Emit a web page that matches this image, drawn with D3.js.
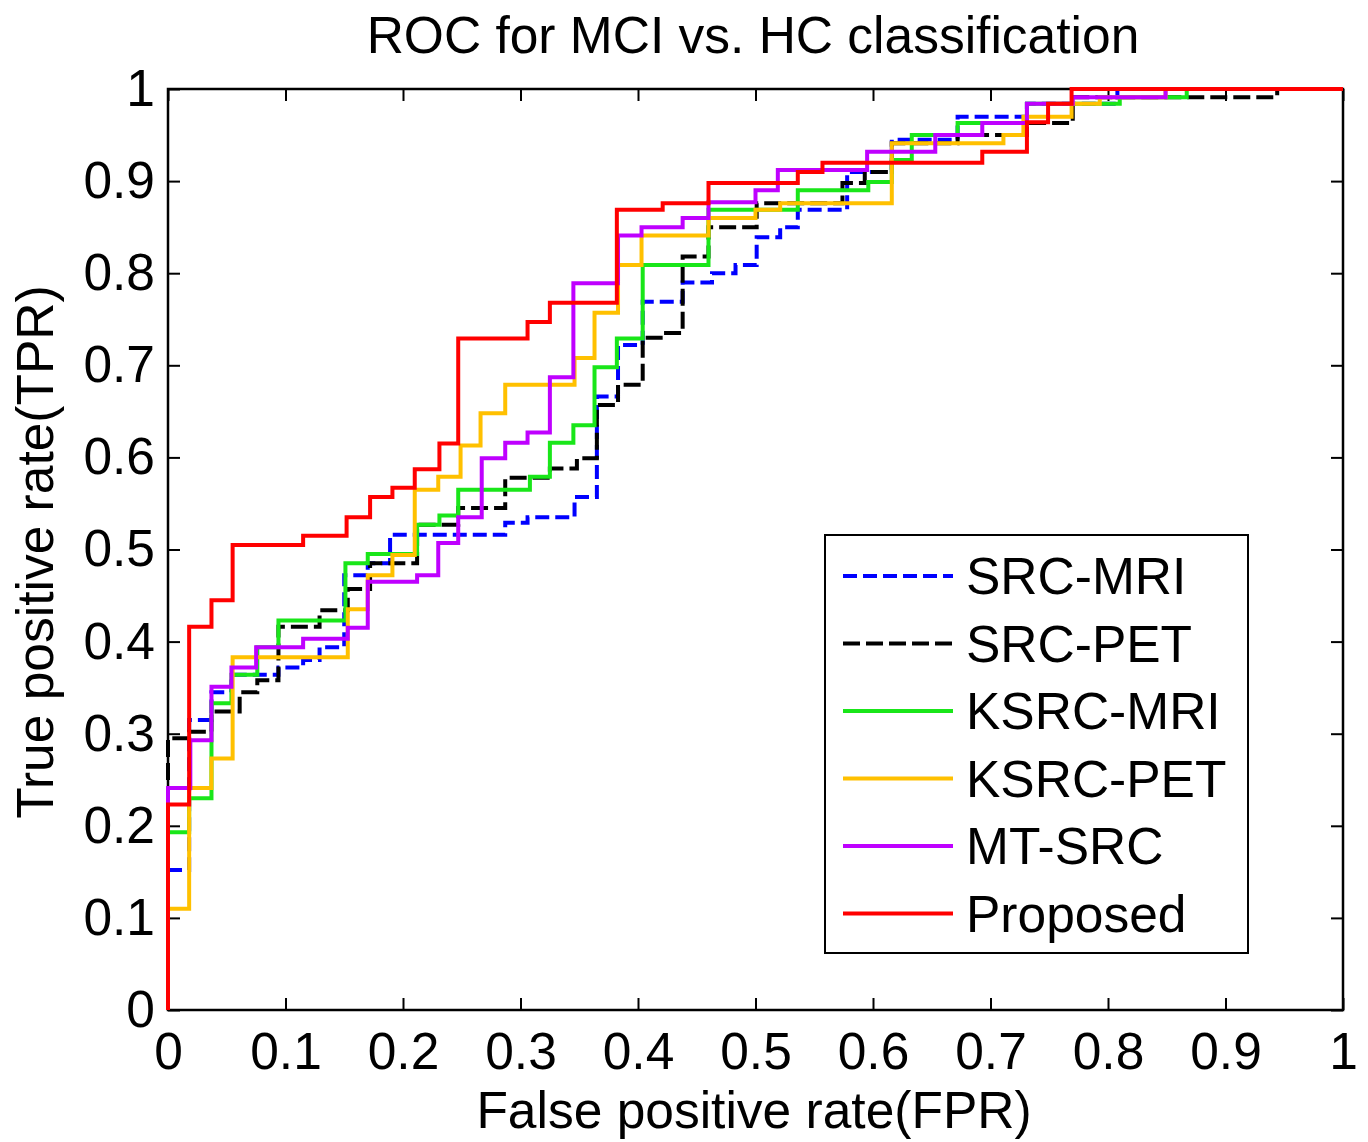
<!DOCTYPE html>
<html>
<head>
<meta charset="utf-8">
<script src="https://cdn.jsdelivr.net/npm/d3@7/dist/d3.min.js"></script>
<style>
  body { margin: 0; background: #fff; }
  text { font-family: "Liberation Sans", Arial, sans-serif; fill: #000; }
</style>
</head>
<body>
<script>
// ROC points (step after): false positive rate / true positive rate
const fprSrcMri = [0, 0, 0.018, 0.037, 0.054, 0.094, 0.115, 0.129, 0.150, 0.170, 0.189, 0.287, 0.306, 0.346, 0.365, 0.383, 0.404, 0.438, 0.463, 0.483, 0.501, 0.521, 0.536, 0.578, 0.616, 0.672, 0.731, 0.808, 1];
const tprSrcMri = [0, 0.152, 0.315, 0.345, 0.364, 0.372, 0.380, 0.394, 0.472, 0.485, 0.516, 0.529, 0.535, 0.557, 0.666, 0.722, 0.769, 0.790, 0.800, 0.809, 0.839, 0.850, 0.869, 0.910, 0.945, 0.970, 0.984, 1, 1];

const fprSrcPet = [0, 0, 0.018, 0.037, 0.061, 0.076, 0.094, 0.129, 0.153, 0.172, 0.212, 0.247, 0.287, 0.325, 0.348, 0.365, 0.383, 0.404, 0.421, 0.438, 0.460, 0.501, 0.574, 0.593, 0.616, 0.672, 0.731, 0.770, 0.944, 1];
const tprSrcPet = [0, 0.295, 0.302, 0.324, 0.345, 0.358, 0.416, 0.434, 0.457, 0.485, 0.527, 0.545, 0.578, 0.588, 0.599, 0.657, 0.679, 0.730, 0.735, 0.818, 0.850, 0.876, 0.898, 0.910, 0.941, 0.950, 0.963, 0.991, 1, 1];

const fprKsrcMri = [0, 0, 0.018, 0.037, 0.054, 0.076, 0.094, 0.151, 0.170, 0.212, 0.231, 0.247, 0.308, 0.325, 0.345, 0.363, 0.382, 0.404, 0.460, 0.536, 0.596, 0.616, 0.633, 0.672, 0.731, 0.810, 0.867, 1];
const tprKsrcMri = [0, 0.193, 0.230, 0.333, 0.364, 0.394, 0.423, 0.485, 0.495, 0.527, 0.537, 0.565, 0.579, 0.616, 0.635, 0.698, 0.729, 0.809, 0.869, 0.890, 0.899, 0.923, 0.950, 0.963, 0.984, 0.991, 1, 1];

const fprKsrcPet = [0, 0, 0.018, 0.037, 0.055, 0.153, 0.170, 0.191, 0.210, 0.230, 0.249, 0.266, 0.287, 0.346, 0.363, 0.383, 0.403, 0.460, 0.500, 0.521, 0.616, 0.711, 0.728, 0.769, 0.793, 0.849, 1];
const tprKsrcPet = [0, 0.110, 0.241, 0.273, 0.383, 0.435, 0.472, 0.494, 0.565, 0.579, 0.613, 0.648, 0.679, 0.708, 0.757, 0.809, 0.841, 0.860, 0.869, 0.876, 0.941, 0.950, 0.970, 0.984, 0.991, 1, 1];

const fprMtSrc = [0, 0, 0.019, 0.037, 0.054, 0.075, 0.115, 0.153, 0.170, 0.212, 0.230, 0.247, 0.267, 0.287, 0.306, 0.325, 0.345, 0.383, 0.403, 0.438, 0.460, 0.500, 0.519, 0.595, 0.653, 0.693, 0.731, 0.770, 0.849, 1];
const tprMtSrc = [0, 0.241, 0.293, 0.351, 0.372, 0.394, 0.403, 0.415, 0.465, 0.472, 0.507, 0.535, 0.599, 0.616, 0.627, 0.687, 0.789, 0.841, 0.850, 0.860, 0.877, 0.890, 0.912, 0.932, 0.950, 0.963, 0.984, 0.991, 1, 1];

const fprProposed = [0, 0, 0.018, 0.037, 0.055, 0.115, 0.152, 0.172, 0.191, 0.210, 0.231, 0.247, 0.306, 0.325, 0.382, 0.421, 0.460, 0.536, 0.557, 0.693, 0.731, 0.749, 0.769, 1];
const tprProposed = [0, 0.223, 0.416, 0.445, 0.505, 0.515, 0.535, 0.557, 0.567, 0.587, 0.615, 0.729, 0.747, 0.768, 0.869, 0.876, 0.898, 0.910, 0.920, 0.932, 0.964, 0.984, 1, 1];

const seriesNames = ["SRC-MRI", "SRC-PET", "KSRC-MRI", "KSRC-PET", "MT-SRC", "Proposed"];
const tickValues = [0, 0.1, 0.2, 0.3, 0.4, 0.5, 0.6, 0.7, 0.8, 0.9, 1];
const tickLabels = ["0", "0.1", "0.2", "0.3", "0.4", "0.5", "0.6", "0.7", "0.8", "0.9", "1"];

// styles per series
const colors = ["#0000ff", "#000000", "#19e619", "#ffc000", "#bf00ff", "#ff0000"];
const dashes = ["14,6", "17,6", null, null, null, null];

const series = [
  [fprSrcMri, tprSrcMri],
  [fprSrcPet, tprSrcPet],
  [fprKsrcMri, tprKsrcMri],
  [fprKsrcPet, tprKsrcPet],
  [fprMtSrc, tprMtSrc],
  [fprProposed, tprProposed]
].map((s, i) => ({
  name: seriesNames[i],
  points: s[0].map((v, j) => [v, s[1][j]])
}));

const w = 1368;
const h = 1142;
const plotLeft = 168, plotRight = 1343, plotTop = 89, plotBottom = 1010;
const fontSize = "51.5px";

const xScale = d3.scaleLinear().domain([0, 1]).range([plotLeft, plotRight]);
const yScale = d3.scaleLinear().domain([0, 1]).range([plotBottom, plotTop]);

const svg = d3.select("body").append("svg")
  .attr("width", w)
  .attr("height", h);

svg.append("rect").attr("width", w).attr("height", h).attr("fill", "#fff");

const fmt = (d) => tickLabels[tickValues.indexOf(d)];
const tick = 12;

// axes, ticks pointing inwards on all four sides
svg.append("g")
  .attr("transform", "translate(0," + plotBottom + ")")
  .call(d3.axisBottom(xScale).tickValues(tickValues).tickFormat(fmt).tickSizeInner(-tick).tickSizeOuter(0).tickPadding(22))
  .call(g => g.select(".domain").remove());

svg.append("g")
  .attr("transform", "translate(" + plotLeft + ",0)")
  .call(d3.axisLeft(yScale).tickValues(tickValues).tickFormat(fmt).tickSizeInner(-tick).tickSizeOuter(0).tickPadding(13))
  .call(g => g.select(".domain").remove());

svg.append("g")
  .attr("transform", "translate(0," + plotTop + ")")
  .call(d3.axisTop(xScale).tickValues(tickValues).tickFormat("").tickSizeInner(-tick).tickSizeOuter(0))
  .call(g => g.select(".domain").remove());

svg.append("g")
  .attr("transform", "translate(" + plotRight + ",0)")
  .call(d3.axisRight(yScale).tickValues(tickValues).tickFormat("").tickSizeInner(-tick).tickSizeOuter(0))
  .call(g => g.select(".domain").remove());

svg.selectAll(".tick line").attr("stroke", "#000").attr("stroke-width", 2);
svg.selectAll(".tick text")
  .style("font-family", "'Liberation Sans', Arial, sans-serif")
  .style("font-size", fontSize)
  .attr("fill", "#000");

svg.append("rect")
  .attr("x", plotLeft).attr("y", plotTop)
  .attr("width", plotRight - plotLeft).attr("height", plotBottom - plotTop)
  .attr("fill", "none").attr("stroke", "#000").attr("stroke-width", 2.5);

// ROC curves
const line = d3.line()
  .x(d => xScale(d[0]))
  .y(d => yScale(d[1]))
  .curve(d3.curveStepAfter);

svg.selectAll("path.roc")
  .data(series)
  .enter()
  .append("path")
  .attr("class", "roc")
  .attr("d", d => line(d.points))
  .attr("fill", "none")
  .attr("stroke", (d, i) => colors[i])
  .attr("stroke-width", 4)
  .attr("stroke-dasharray", (d, i) => dashes[i]);

// titles
svg.append("text")
  .attr("x", 753).attr("y", 53)
  .attr("text-anchor", "middle")
  .style("font-size", fontSize)
  .text("ROC for MCI vs. HC classification");

svg.append("text")
  .attr("x", 754).attr("y", 1128)
  .attr("text-anchor", "middle")
  .style("font-size", fontSize)
  .text("False positive rate(FPR)");

svg.append("text")
  .attr("transform", "translate(53,552) rotate(-90)")
  .attr("text-anchor", "middle")
  .style("font-size", fontSize)
  .text("True positive rate(TPR)");

// legend
const legend = svg.append("g");
legend.append("rect")
  .attr("x", 825).attr("y", 535)
  .attr("width", 423).attr("height", 418)
  .attr("fill", "#fff").attr("stroke", "#000").attr("stroke-width", 2);

const rows = legend.selectAll("g.row")
  .data(series)
  .enter()
  .append("g")
  .attr("class", "row")
  .attr("transform", (d, i) => "translate(0," + (576 + i * 67.5) + ")");

rows.append("line")
  .attr("x1", 843).attr("x2", 953)
  .attr("stroke", (d, i) => colors[i])
  .attr("stroke-width", 4)
  .attr("stroke-dasharray", (d, i) => dashes[i]);

rows.append("text")
  .attr("x", 966)
  .attr("dy", "0.35em")
  .style("font-size", fontSize)
  .text(d => d.name);
</script>
</body>
</html>
